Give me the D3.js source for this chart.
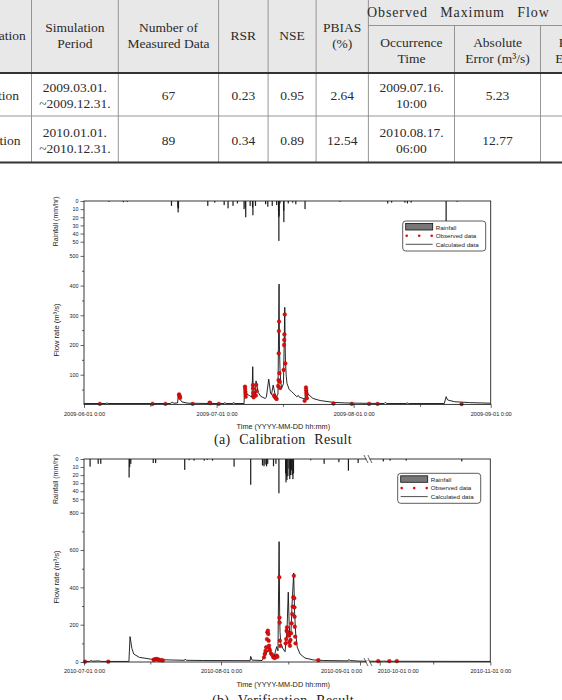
<!DOCTYPE html>
<html>
<head>
<meta charset="utf-8">
<script src="https://cdn.jsdelivr.net/npm/d3@7"></script>
<style>
  body { margin: 0; background: #fff; }
  svg { display: block; }
</style>
</head>
<body>
<div id="figure"></div>
<script>
// ---------- table data ----------
const tableHead = [["Classification"], ["Simulation", "Period"], ["Number of", "Measured Data"], ["RSR"], ["NSE"], ["PBIAS", "(%)"]];
const tableGroup = "Observed Maximum Flow";
const tableSubHead = [["Occurrence", "Time"], ["Absolute", "Error (m³/s)"], ["Relative", "Error (%)"]];
const tableRows = [
    [["Calibration"], ["2009.03.01.", "~2009.12.31."], ["67"], ["0.23"], ["0.95"], ["2.64"], ["2009.07.16.", "10:00"], ["5.23"], [""]],
    [["Verification"], ["2010.01.01.", "~2010.12.31."], ["89"], ["0.34"], ["0.89"], ["12.54"], ["2010.08.17.", "06:00"], ["12.77"], [""]],
];

// ---------- (a) calibration data ----------
const calXTicks = ["2009-06-01", "2009-07-01", "2009-08-01", "2009-09-01"];
const calXMinor = ["2009-06-16", "2009-07-16", "2009-08-16"];
const calFlowTicks = [100, 200, 300, 400, 500];
const calFlowMinor = [50, 150, 250, 350, 450];
const rainTicks = [0, 10, 20, 30, 40, 50];

const calRain = [
    ["2009-06-06 16:00", 1], ["2009-06-09 22:00", 1.5], ["2009-06-10 19:00", 1],
    ["2009-06-20 19:00", 6], ["2009-06-22 06:00", 8], ["2009-06-22 07:00", 14], ["2009-06-22 09:00", 9],
    ["2009-06-29 00:00", 6], ["2009-06-30 14:00", 2], ["2009-07-02 17:00", 5], ["2009-07-03 14:00", 9],
    ["2009-07-04 17:00", 6], ["2009-07-05 17:00", 3], ["2009-07-07 05:00", 10], ["2009-07-07 12:00", 8],
    ["2009-07-07 14:00", 20], ["2009-07-08 14:00", 6], ["2009-07-09 03:00", 8], ["2009-07-09 05:00", 17.5],
    ["2009-07-09 19:00", 6], ["2009-07-12 02:00", 4], ["2009-07-12 14:00", 7], ["2009-07-13 14:00", 6],
    ["2009-07-14 14:00", 5], ["2009-07-15 00:00", 12], ["2009-07-15 01:00", 20], ["2009-07-15 02:00", 49],
    ["2009-07-15 03:00", 18], ["2009-07-15 08:00", 3], ["2009-07-16 04:00", 12], ["2009-07-16 05:00", 26],
    ["2009-07-17 05:00", 3], ["2009-07-18 05:00", 2], ["2009-07-18 22:00", 4], ["2009-07-21 00:00", 10],
    ["2009-07-28 22:00", 1], ["2009-08-08 17:00", 3], ["2009-08-09 14:00", 2], ["2009-08-12 14:00", 2],
    ["2009-08-13 04:00", 3], ["2009-08-14 00:00", 2], ["2009-08-21 22:00", 27], ["2009-08-24 10:00", 1],
];

const calFlow = [
    ["2009-06-01 00:00", 3], ["2009-06-06 00:00", 3], ["2009-06-06 04:00", 5], ["2009-06-06 10:00", 3],
    ["2009-06-20 12:00", 3], ["2009-06-21 00:00", 8], ["2009-06-21 06:00", 4], ["2009-06-22 04:00", 5],
    ["2009-06-22 08:00", 32], ["2009-06-22 15:00", 18], ["2009-06-23 05:00", 8], ["2009-06-24 12:00", 4],
    ["2009-06-29 06:00", 3], ["2009-06-29 08:00", 7], ["2009-06-29 20:00", 3], ["2009-07-02 16:00", 3],
    ["2009-07-02 18:00", 6], ["2009-07-03 04:00", 3], ["2009-07-04 16:00", 3], ["2009-07-04 18:00", 6],
    ["2009-07-05 04:00", 3], ["2009-07-07 05:00", 3], ["2009-07-07 08:00", 60], ["2009-07-07 20:00", 35],
    ["2009-07-08 14:00", 28], ["2009-07-09 00:00", 25], ["2009-07-09 04:00", 127], ["2009-07-09 06:00", 70],
    ["2009-07-09 12:00", 40], ["2009-07-09 19:00", 35], ["2009-07-09 22:00", 79], ["2009-07-10 10:00", 40],
    ["2009-07-11 00:00", 27], ["2009-07-11 23:00", 20], ["2009-07-12 06:00", 24], ["2009-07-12 19:00", 85],
    ["2009-07-13 05:00", 37], ["2009-07-13 10:00", 33], ["2009-07-13 19:00", 65], ["2009-07-14 10:00", 21],
    ["2009-07-14 21:00", 35], ["2009-07-15 03:00", 405], ["2009-07-15 05:00", 200], ["2009-07-15 08:00", 120],
    ["2009-07-15 12:00", 75], ["2009-07-15 17:00", 55], ["2009-07-16 03:00", 70], ["2009-07-16 10:00", 327],
    ["2009-07-16 12:00", 200], ["2009-07-16 14:00", 140], ["2009-07-16 18:00", 95], ["2009-07-16 22:00", 71],
    ["2009-07-17 10:00", 50], ["2009-07-18 00:00", 43], ["2009-07-19 03:00", 26], ["2009-07-19 12:00", 30],
    ["2009-07-19 18:00", 24], ["2009-07-21 00:00", 18], ["2009-07-21 05:00", 58], ["2009-07-21 16:00", 35],
    ["2009-07-22 19:00", 20], ["2009-07-24 10:00", 13], ["2009-07-27 08:00", 7], ["2009-07-30 00:00", 5],
    ["2009-08-01 19:00", 4], ["2009-08-07 22:00", 3], ["2009-08-08 04:00", 7], ["2009-08-08 12:00", 3],
    ["2009-08-12 20:00", 3], ["2009-08-13 02:00", 5], ["2009-08-13 10:00", 3], ["2009-08-21 12:00", 3],
    ["2009-08-21 22:00", 26], ["2009-08-22 06:00", 15], ["2009-08-23 19:00", 9], ["2009-08-27 05:00", 6],
    ["2009-08-31 23:00", 4],
];

const calObs = [
    ["2009-06-04 14:00", 2], ["2009-06-16 12:00", 2], ["2009-06-19 10:00", 2],
    ["2009-06-22 12:00", 34], ["2009-06-22 14:00", 30], ["2009-06-22 16:00", 26], ["2009-06-22 18:00", 22],
    ["2009-06-25 14:00", 2], ["2009-06-29 10:00", 6], ["2009-06-29 14:00", 4], ["2009-07-01 12:00", 2],
    ["2009-07-07 10:00", 60], ["2009-07-07 11:00", 52], ["2009-07-07 12:00", 43], ["2009-07-07 13:00", 35],
    ["2009-07-07 14:00", 26], ["2009-07-09 05:00", 65], ["2009-07-09 06:00", 54], ["2009-07-09 07:00", 39],
    ["2009-07-09 08:00", 28], ["2009-07-09 09:00", 24], ["2009-07-09 21:00", 30], ["2009-07-09 23:00", 66],
    ["2009-07-10 01:00", 45], ["2009-07-14 00:00", 30], ["2009-07-14 03:00", 26], ["2009-07-14 10:00", 21],
    ["2009-07-14 14:00", 18], ["2009-07-14 22:00", 62], ["2009-07-15 00:00", 82], ["2009-07-15 01:00", 172],
    ["2009-07-15 02:00", 247], ["2009-07-15 03:00", 279], ["2009-07-15 05:00", 105], ["2009-07-15 07:00", 76],
    ["2009-07-15 09:00", 55], ["2009-07-16 04:00", 116], ["2009-07-16 06:00", 200], ["2009-07-16 07:00", 217],
    ["2009-07-16 08:00", 236], ["2009-07-16 10:00", 303], ["2009-07-16 13:00", 138], ["2009-07-20 22:00", 12],
    ["2009-07-21 05:00", 57], ["2009-07-21 06:00", 48], ["2009-07-21 07:00", 39], ["2009-07-21 08:00", 32],
    ["2009-07-21 10:00", 21], ["2009-07-27 10:00", 3], ["2009-07-31 14:00", 2], ["2009-08-04 12:00", 2],
    ["2009-08-06 10:00", 2], ["2009-08-25 10:00", 1],
];

// ---------- (b) verification data ----------
const verXTicks = ["2010-07-01", "2010-08-01", "2010-09-01", "2010-10-01", "2010-11-01"];
const verXMinor = ["2010-07-16", "2010-08-16", "2010-10-16"];
const verFlowTicks = [0, 200, 400, 600, 800];
const verFlowMinor = [100, 300, 500, 700];

const verRain = [
    ["2010-07-02 09:00", 9.5], ["2010-07-04 05:00", 6], ["2010-07-04 19:00", 6], ["2010-07-11 05:00", 23],
    ["2010-07-11 08:00", 10], ["2010-07-11 14:00", 6], ["2010-07-16 16:00", 5], ["2010-07-17 05:00", 5],
    ["2010-07-23 19:00", 13.5], ["2010-07-24 19:00", 1.5], ["2010-07-25 22:00", 2], ["2010-07-28 05:00", 2],
    ["2010-07-28 22:00", 1], ["2010-07-30 02:00", 2], ["2010-08-03 22:00", 9.5], ["2010-08-07 15:00", 32],
    ["2010-08-10 06:00", 8], ["2010-08-10 14:00", 9], ["2010-08-10 20:00", 7], ["2010-08-11 04:00", 9],
    ["2010-08-11 10:00", 6], ["2010-08-12 17:00", 9], ["2010-08-13 06:00", 6], ["2010-08-13 22:00", 42.5],
    ["2010-08-15 10:00", 18], ["2010-08-15 12:00", 29], ["2010-08-15 15:00", 22], ["2010-08-15 17:00", 26],
    ["2010-08-15 22:00", 21], ["2010-08-16 04:00", 12], ["2010-08-16 08:00", 25], ["2010-08-16 12:00", 20],
    ["2010-08-16 17:00", 14], ["2010-08-16 21:00", 20], ["2010-08-17 01:00", 25], ["2010-08-17 04:00", 18],
    ["2010-08-21 00:00", 1.5], ["2010-08-24 00:00", 6], ["2010-08-27 07:00", 4], ["2010-08-29 10:00", 14.5],
    ["2010-08-31 14:00", 5], ["2010-10-02 00:00", 3], ["2010-10-03 22:00", 2], ["2010-10-08 10:00", 2],
    ["2010-10-24 00:00", 3],
];

const verFlow = [
    ["2010-07-01 00:00", 3], ["2010-07-02 08:00", 3], ["2010-07-02 12:00", 8], ["2010-07-03 00:00", 4],
    ["2010-07-04 06:00", 6], ["2010-07-05 00:00", 3], ["2010-07-11 04:00", 3], ["2010-07-11 10:00", 136],
    ["2010-07-11 20:00", 73], ["2010-07-12 06:00", 43], ["2010-07-13 12:00", 25], ["2010-07-16 12:00", 14],
    ["2010-07-20 06:00", 11], ["2010-07-23 18:00", 9], ["2010-07-23 21:00", 15], ["2010-07-24 06:00", 9],
    ["2010-07-28 00:00", 8], ["2010-08-07 12:00", 7], ["2010-08-07 15:00", 30], ["2010-08-07 22:00", 10],
    ["2010-08-10 04:00", 8], ["2010-08-10 11:00", 20], ["2010-08-11 00:00", 40], ["2010-08-11 17:00", 73],
    ["2010-08-12 04:00", 40], ["2010-08-12 20:00", 28], ["2010-08-13 10:00", 82], ["2010-08-13 17:00", 60],
    ["2010-08-13 23:00", 645], ["2010-08-14 02:00", 250], ["2010-08-14 04:00", 160], ["2010-08-14 08:00", 100],
    ["2010-08-14 20:00", 70], ["2010-08-15 07:00", 55], ["2010-08-15 12:00", 114], ["2010-08-15 17:00", 160],
    ["2010-08-16 00:00", 374], ["2010-08-16 05:00", 200], ["2010-08-16 09:00", 132], ["2010-08-16 15:00", 170],
    ["2010-08-16 20:00", 300], ["2010-08-17 05:00", 477], ["2010-08-17 10:00", 260], ["2010-08-17 16:00", 150],
    ["2010-08-18 00:00", 80], ["2010-08-18 15:00", 43], ["2010-08-19 18:00", 21], ["2010-08-21 15:00", 11],
    ["2010-08-23 20:00", 8], ["2010-08-29 08:00", 6], ["2010-08-29 12:00", 13], ["2010-08-29 20:00", 8],
    ["2010-08-31 14:00", 5], ["2010-09-03 00:00", 4], ["2010-09-28 00:00", 4], ["2010-10-02 00:00", 4],
    ["2010-10-02 04:00", 6], ["2010-10-02 12:00", 4], ["2010-11-01 00:00", 3],
];

const verObs = [
    ["2010-07-01 06:00", 2], ["2010-07-06 12:00", 2], ["2010-07-16 18:00", 12], ["2010-07-17 00:00", 14],
    ["2010-07-17 06:00", 15], ["2010-07-17 12:00", 16], ["2010-07-17 18:00", 13], ["2010-07-18 00:00", 12],
    ["2010-07-18 12:00", 10], ["2010-07-18 20:00", 9], ["2010-08-10 14:00", 25], ["2010-08-10 18:00", 43],
    ["2010-08-10 22:00", 60], ["2010-08-11 02:00", 79], ["2010-08-11 06:00", 123], ["2010-08-11 08:00", 159],
    ["2010-08-11 11:00", 168], ["2010-08-11 13:00", 150], ["2010-08-11 15:00", 114], ["2010-08-11 17:00", 87],
    ["2010-08-11 19:00", 70], ["2010-08-11 22:00", 61], ["2010-08-12 04:00", 45], ["2010-08-12 10:00", 38],
    ["2010-08-12 16:00", 25], ["2010-08-13 00:00", 21], ["2010-08-13 10:00", 34], ["2010-08-13 14:00", 28],
    ["2010-08-14 00:00", 454], ["2010-08-14 01:00", 238], ["2010-08-14 02:00", 211], ["2010-08-14 03:00", 114],
    ["2010-08-14 05:00", 86], ["2010-08-15 10:00", 100], ["2010-08-15 13:00", 123], ["2010-08-15 15:00", 168],
    ["2010-08-15 17:00", 186], ["2010-08-15 20:00", 160], ["2010-08-16 00:00", 141], ["2010-08-16 05:00", 106],
    ["2010-08-16 09:00", 87], ["2010-08-16 12:00", 118], ["2010-08-16 15:00", 154], ["2010-08-16 18:00", 207],
    ["2010-08-16 21:00", 257], ["2010-08-17 00:00", 297], ["2010-08-17 03:00", 347], ["2010-08-17 06:00", 462],
    ["2010-08-17 08:00", 342], ["2010-08-17 09:00", 293], ["2010-08-17 10:00", 243], ["2010-08-17 11:00", 189],
    ["2010-08-17 13:00", 136], ["2010-08-17 15:00", 100], ["2010-08-22 17:00", 10], ["2010-09-30 14:00", 5],
    ["2010-10-03 17:00", 5], ["2010-10-05 19:00", 5],
];

const legendItems = ["Rainfall", "Observed data", "Calculated data"];

// ---------- setup ----------
const W = 562, H = 700;
const parseTime = d3.timeParse("%Y-%m-%d %H:%M");
const parseDay = d3.timeParse("%Y-%m-%d");
const tickFmt = d3.timeFormat("%Y-%m-%d %-H:%M");
const sans = "'Liberation Sans', Arial, sans-serif";
const serif = "'Liberation Serif', 'Times New Roman', serif";

const svg = d3.select("#figure")
    .append("svg")
    .attr("width", W)
    .attr("height", H)
    .attr("viewBox", [0, 0, W, H]);

function drawTable() {
    const g = svg.append("g").attr("font-family", serif).attr("font-size", 13.5).attr("fill", "#2b2b2b");
    const colX = [-54, 31.5, 118.3, 218.6, 268.1, 316.1, 368.4, 454.5, 540.5, 622];
    const headTop = -5, groupLine = 25.5, headBottom = 73, rowSep = 116, tableBottom = 162.5;
    const rowMid = [95, 140];
    const lineGap = 16;
    const rule = "#8a8a8a";

    g.append("rect")
        .attr("x", 0).attr("y", headTop).attr("width", W).attr("height", headBottom - headTop)
        .attr("fill", "#e8e8e8");

    // vertical rules (the ones inside the "Observed Maximum Flow" group start below its title)
    g.selectAll(".vrule")
        .data(colX.slice(1, -1))
        .join("line")
        .attr("x1", (d) => d).attr("x2", (d) => d)
        .attr("y1", (d, i) => i >= 6 ? groupLine : headTop)
        .attr("y2", tableBottom)
        .attr("stroke", rule).attr("stroke-width", 0.9);

    g.append("line").attr("x1", colX[6]).attr("x2", W).attr("y1", groupLine).attr("y2", groupLine)
        .attr("stroke", rule).attr("stroke-width", 0.9);
    g.append("line").attr("x1", 0).attr("x2", W).attr("y1", rowSep).attr("y2", rowSep)
        .attr("stroke", rule).attr("stroke-width", 0.9);
    g.append("line").attr("x1", 0).attr("x2", W).attr("y1", headBottom).attr("y2", headBottom)
        .attr("stroke", "#333").attr("stroke-width", 1.8);
    g.append("line").attr("x1", 0).attr("x2", W).attr("y1", tableBottom).attr("y2", tableBottom)
        .attr("stroke", "#333").attr("stroke-width", 1.8);

    const cellText = (lines, cx, cy) => {
        lines.forEach((t, i) => {
            g.append("text")
                .attr("x", cx)
                .attr("y", cy + (i - (lines.length - 1) / 2) * lineGap)
                .attr("text-anchor", "middle")
                .attr("dominant-baseline", "central")
                .text(t);
        });
    };

    tableHead.forEach((lines, i) => cellText(lines, (colX[i] + colX[i + 1]) / 2, 35));
    g.append("text")
        .attr("x", 367)
        .attr("y", 12.7)
        .attr("dominant-baseline", "central")
        .attr("font-size", 14)
        .attr("letter-spacing", 0.9)
        .attr("word-spacing", 8)
        .text(tableGroup);
    tableSubHead.forEach((lines, i) => cellText(lines, (colX[i + 6] + colX[i + 7]) / 2, 50));
    tableRows.forEach((row, r) => {
        row.forEach((lines, i) => cellText(lines, (colX[i] + colX[i + 1]) / 2, rowMid[r]));
    });
}

function drawPanel(cfg) {
    const g = svg.append("g").attr("font-family", sans).attr("fill", "#000");
    const {x, left, right, top, bottom} = cfg;

    const rainY = d3.scaleLinear().domain([0, 50]).range([top, cfg.rainBottom]);
    const flowY = d3.scaleLinear().domain([0, cfg.flowMax]).range([bottom, cfg.flowMaxY]);

    // rainfall bars hanging from the top
    g.append("g")
        .selectAll("rect")
        .data(cfg.rain)
        .join("rect")
        .attr("x", (d) => x(parseTime(d[0])) - 0.6)
        .attr("y", top)
        .attr("width", 1.2)
        .attr("height", (d) => rainY(d[1]) - top)
        .attr("fill", "#1a1a1a");

    // calculated hydrograph
    const line = d3.line()
        .x((d) => x(parseTime(d[0])))
        .y((d) => flowY(d[1]));
    g.append("path")
        .datum(cfg.flow)
        .attr("d", line)
        .attr("fill", "none")
        .attr("stroke", "#111")
        .attr("stroke-width", 0.9);

    // observed points
    g.append("g")
        .selectAll("circle")
        .data(cfg.obs)
        .join("circle")
        .attr("cx", (d) => x(parseTime(d[0])))
        .attr("cy", (d) => flowY(d[1]))
        .attr("r", 1.9)
        .attr("fill", "#e00d0d")
        .attr("stroke", "#8a0000")
        .attr("stroke-width", 0.3);

    // frame
    g.append("rect")
        .attr("x", left).attr("y", top)
        .attr("width", right - left).attr("height", bottom - top)
        .attr("fill", "none").attr("stroke", "#222").attr("stroke-width", 0.9);

    // axes
    const styleAxis = (sel, size) => {
        sel.select(".domain").remove();
        sel.selectAll("line").attr("stroke", "#222").attr("stroke-width", 0.7);
        sel.selectAll("text").attr("font-family", sans).attr("font-size", size).attr("fill", "#222");
    };

    const shifts = cfg.labelShift || [];
    g.append("g")
        .attr("transform", `translate(0,${bottom})`)
        .call(d3.axisBottom(x).tickValues(cfg.xTicks.map(parseDay)).tickFormat(tickFmt).tickSize(3.5).tickPadding(4))
        .call((s) => styleAxis(s, 5.6))
        .call((s) => s.selectAll(".tick text").attr("dx", (d, i) => shifts[i] || 0));
    g.append("g")
        .attr("transform", `translate(0,${bottom})`)
        .call(d3.axisBottom(x).tickValues(cfg.xMinor.map(parseDay)).tickFormat("").tickSize(2.5))
        .call((s) => styleAxis(s, 5.6));

    g.append("g")
        .attr("transform", `translate(${left},0)`)
        .call(d3.axisLeft(flowY).tickValues(cfg.flowTicks).tickSize(3.5).tickPadding(2))
        .call((s) => styleAxis(s, 5.4));
    g.append("g")
        .attr("transform", `translate(${left},0)`)
        .call(d3.axisLeft(flowY).tickValues(cfg.flowMinor).tickFormat("").tickSize(2))
        .call((s) => styleAxis(s, 5.4));
    g.append("g")
        .attr("transform", `translate(${left},0)`)
        .call(d3.axisLeft(rainY).tickValues(rainTicks).tickSize(3.5).tickPadding(2))
        .call((s) => styleAxis(s, 5.4));

    // axis titles
    g.append("text")
        .attr("transform", `translate(${left - 26},${(top + cfg.rainBottom) / 2}) rotate(-90)`)
        .attr("text-anchor", "middle")
        .attr("font-size", 7)
        .attr("fill", "#222")
        .text("Rainfall (mm/hr)");
    g.append("text")
        .attr("transform", `translate(${left - 25},${cfg.flowLabelY}) rotate(-90)`)
        .attr("text-anchor", "middle")
        .attr("font-size", 7.6)
        .attr("fill", "#222")
        .text("Flow rate (m³/s)");
    g.append("text")
        .attr("x", (left + right) / 2 - 4)
        .attr("y", bottom + 25)
        .attr("text-anchor", "middle")
        .attr("font-size", 7.3)
        .attr("fill", "#222")
        .text("Time (YYYY-MM-DD hh:mm)");

    // axis break
    if (cfg.breakAt) {
        const bx = x(cfg.breakAt);
        [top, bottom].forEach((yy) => {
            g.append("rect").attr("x", bx - 1.5).attr("y", yy - 1).attr("width", 3).attr("height", 2).attr("fill", "#fff");
            [-2, 2].forEach((dx) => {
                g.append("line")
                    .attr("x1", bx + dx - 2).attr("y1", yy - 4)
                    .attr("x2", bx + dx + 2).attr("y2", yy + 4)
                    .attr("stroke", "#222").attr("stroke-width", 0.7);
            });
        });
    }

    // legend
    const lg = g.append("g").attr("transform", `translate(${cfg.legend[0]},${cfg.legend[1]})`);
    lg.append("rect")
        .attr("width", 83).attr("height", 30).attr("rx", 3)
        .attr("fill", "#fff").attr("stroke", "#333").attr("stroke-width", 0.8);
    lg.append("rect")
        .attr("x", 3).attr("y", 2.5).attr("width", 27).attr("height", 6.5)
        .attr("fill", "#777").attr("stroke", "#111").attr("stroke-width", 0.8);
    lg.selectAll(".dot")
        .data([4, 16.5, 29])
        .join("circle")
        .attr("cx", (d) => d).attr("cy", 14.8).attr("r", 1.3).attr("fill", "#e00d0d");
    lg.append("line")
        .attr("x1", 3).attr("x2", 30).attr("y1", 23.3).attr("y2", 23.3)
        .attr("stroke", "#222").attr("stroke-width", 0.8);
    lg.selectAll("text")
        .data(legendItems)
        .join("text")
        .attr("x", 33)
        .attr("y", (d, i) => 6 + i * 8.6)
        .attr("dominant-baseline", "central")
        .attr("font-size", 6.2)
        .attr("fill", "#222")
        .text((d) => d);

    // caption
    svg.append("text")
        .attr("x", cfg.captionX)
        .attr("y", cfg.captionY)
        .attr("text-anchor", "middle")
        .attr("font-family", serif)
        .attr("font-size", 14)
        .attr("word-spacing", 5)
        .attr("letter-spacing", 0.3)
        .attr("fill", "#222")
        .text(cfg.caption);
}

drawTable();

drawPanel({
    x: d3.scaleTime().domain([parseDay("2009-06-01"), parseDay("2009-09-01")]).range([84, 490.7]),
    left: 84, right: 490.7, top: 201, bottom: 404.4,
    rainBottom: 241.7, flowMax: 500, flowMaxY: 255.9, flowLabelY: 330,
    rain: calRain, flow: calFlow, obs: calObs,
    xTicks: calXTicks, xMinor: calXMinor, flowTicks: calFlowTicks, flowMinor: calFlowMinor,
    legend: [402.7, 221],
    caption: "(a) Calibration Result", captionX: 283, captionY: 444,
});

drawPanel({
    x: d3.scaleTime()
        .domain(["2010-07-01", "2010-08-01", "2010-09-01", "2010-09-03", "2010-09-28", "2010-11-01"].map(parseDay))
        .range([84, 221, 360, 367, 369, 490.3]),
    left: 84, right: 490.3, top: 459, bottom: 662,
    rainBottom: 499.3, flowMax: 800, flowMaxY: 512.7, flowLabelY: 577,
    rain: verRain, flow: verFlow, obs: verObs,
    xTicks: verXTicks, xMinor: verXMinor, flowTicks: verFlowTicks, flowMinor: verFlowMinor,
    labelShift: [0, 0, -19, 18, 0],
    breakAt: parseDay("2010-09-15"),
    legend: [397.7, 473.3],
    caption: "(b) Verification Result", captionX: 283, captionY: 705,
});
</script>
</body>
</html>
